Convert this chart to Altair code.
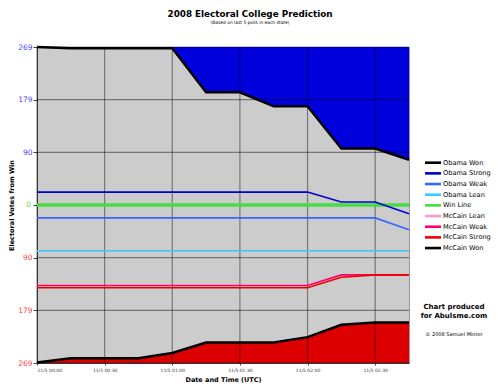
import altair as alt
import pandas as pd

# ---------------- data ----------------
times = ["2008-11-05T00:00:00", "2008-11-05T00:15:00", "2008-11-05T00:30:00", "2008-11-05T00:45:00",
         "2008-11-05T01:00:00", "2008-11-05T01:15:00", "2008-11-05T01:30:00", "2008-11-05T01:45:00",
         "2008-11-05T02:00:00", "2008-11-05T02:15:00", "2008-11-05T02:30:00", "2008-11-05T02:45:00"]

obama_won     = [269, 267, 267, 267, 267, 192, 192, 168, 168, 96, 96, 77]
obama_strong  = [22, 22, 22, 22, 22, 22, 22, 22, 22, 5, 5, -15]
obama_weak    = [-22, -22, -22, -22, -22, -22, -22, -22, -22, -22, -22, -42]
obama_lean    = [-78, -78, -78, -78, -78, -78, -78, -78, -78, -78, -78, -78]
win_line      = [0, 0, 0, 0, 0, 0, 0, 0, 0, 0, 0, 0]
mccain_lean   = [-78, -78, -78, -78, -78, -78, -78, -78, -78, -78, -78, -78]
mccain_weak   = [-137, -137, -137, -137, -137, -137, -137, -137, -137, -119, -119, -119]
mccain_strong = [-141, -141, -141, -141, -141, -141, -141, -141, -141, -123, -119, -119]
mccain_won    = [-268, -261, -261, -261, -252, -234, -234, -234, -225, -204, -200, -200]

series_names = ["Obama Won", "Obama Strong", "Obama Weak", "Obama Lean", "Win Line",
                "McCain Lean", "McCain Weak", "McCain Strong", "McCain Won"]
series_colors = ["#000000", "#0000cc", "#3366ff", "#33ccff", "#44dd44",
                 "#ff99cc", "#ff0066", "#ee0000", "#000000"]

y_ticks = [269, 179.33, 89.67, 0, -89.67, -179.33, -269]
x_ticks = ["2008-11-05T00:00:00", "2008-11-05T00:30:00", "2008-11-05T01:00:00",
           "2008-11-05T01:30:00", "2008-11-05T02:00:00", "2008-11-05T02:30:00"]

notes = ["Chart produced", "for Abulsme.com", "\u00a9 2008 Samuel Minter"]

# ---------------- tables ----------------
values_by_series = {
    "Obama Won": obama_won, "Obama Strong": obama_strong, "Obama Weak": obama_weak,
    "Obama Lean": obama_lean, "Win Line": win_line, "McCain Lean": mccain_lean,
    "McCain Weak": mccain_weak, "McCain Strong": mccain_strong, "McCain Won": mccain_won,
}
color_of = dict(zip(series_names, series_colors))

def long_df(names):
    rows = []
    for n in names:
        for t, v in zip(times, values_by_series[n]):
            rows.append({"time": t, "series": n, "value": v})
    return pd.DataFrame(rows)

area_df = pd.DataFrame({"time": times, "obama_won": obama_won, "mccain_won": mccain_won,
                        "top": [269] * len(times), "bottom": [-269] * len(times)})

FONT = "DejaVu Sans"

def y_axis():
    return alt.Axis(
        values=y_ticks,
        labelExpr="datum.value == 0 ? '' : format(abs(datum.value), '.0f')",
        labelColor=alt.condition("datum.value > 0", alt.value("#4444ff"), alt.value("#ff4444")),
        labelFontSize=7.5, labelFont=FONT, labelPadding=1,
        tickColor="#444", tickSize=4, domainColor="#444",
        grid=False, title="Electoral Votes from Win", titleFontSize=6.5,
        titleFont=FONT, titleFontWeight="bold", titlePadding=3, titleColor="#000",
    )

def x_axis():
    return alt.Axis(
        values=[alt.DateTime(year=2008, month=11, date=5, hours=h, minutes=m)
                for h, m in [(0, 0), (0, 30), (1, 0), (1, 30), (2, 0), (2, 30)]],
        labelExpr="(month(datum.value)+1) + '/' + date(datum.value) + ' ' + timeFormat(datum.value, '%H:%M')",
        labelFontSize=4.5, labelFont=FONT, labelColor="#333", labelPadding=2,
        tickColor="#444", tickSize=2, domainColor="#444", grid=False,
        title="Date and Time (UTC)", titleFontSize=6.5, titleFont=FONT,
        titleFontWeight="bold", titlePadding=5, titleColor="#000",
    )

def X(field="time"):
    return alt.X(f"{field}:T", scale=alt.Scale(nice=False), axis=x_axis(), title="Date and Time (UTC)")

def Y(field):
    return alt.Y(f"{field}:Q", scale=alt.Scale(domain=[-269, 269], nice=False, zero=False),
                 axis=y_axis(), title="Electoral Votes from Win")

def color_enc():
    return alt.Color("series:N", scale=alt.Scale(domain=series_names, range=series_colors),
                     legend=None)

blue_area = alt.Chart(area_df).mark_area(color="#0000dd", opacity=1).encode(
    x=X(), y=Y("obama_won"), y2=alt.Y2("top"))
red_area = alt.Chart(area_df).mark_area(color="#dd0000", opacity=1).encode(
    x=X(), y=Y("mccain_won"), y2=alt.Y2("bottom"))

hgrid = alt.Chart(pd.DataFrame({"v": y_ticks})).mark_rule(
    color="#000", opacity=0.42, strokeWidth=1.2).encode(y=Y("v"))
vgrid = alt.Chart(pd.DataFrame({"tt": x_ticks})).mark_rule(
    color="#000", opacity=0.42, strokeWidth=1.2).encode(x=X("tt"))

win = alt.Chart(long_df(["Win Line"])).mark_line(strokeWidth=3.5).encode(
    x=X(), y=Y("value"), color=color_enc())
thin = alt.Chart(long_df(["McCain Lean", "Obama Lean", "Obama Weak", "Obama Strong",
                          "McCain Weak", "McCain Strong"])).mark_line(strokeWidth=1.6).encode(
    x=X(), y=Y("value"), color=color_enc())
won = alt.Chart(long_df(["Obama Won", "McCain Won"])).mark_line(strokeWidth=2.5).encode(
    x=X(), y=Y("value"), color=color_enc())

zero_label = alt.Chart(pd.DataFrame({"v": [0], "s": ["0"]})).mark_text(
    font=FONT, fontSize=7.5, color="#55dd55", align="right", baseline="middle").encode(
    y=Y("v"), x=alt.value(-6), text="s:N")

# ---- legend (drawn by hand, entries from series arrays) ----
legend_layers = []
LEG_Y0, LEG_DY = 115.7, 10.67
for i, name in enumerate(series_names):
    ly = LEG_Y0 + i * LEG_DY
    ldf = pd.DataFrame({"series": [name]})
    legend_layers.append(
        alt.Chart(ldf).mark_rule(strokeWidth=2.6, color=color_of[name]).encode(
            x=alt.value(388), x2=alt.value(404), y=alt.value(ly)))
    legend_layers.append(
        alt.Chart(ldf).mark_text(font=FONT, fontSize=6.6, color="#000", align="left",
                                 baseline="middle").encode(
            text="series:N", x=alt.value(406), y=alt.value(ly)))

def note(i, x, y, size, bold):
    return alt.Chart(pd.DataFrame({"n": [notes[i]]})).mark_text(
        font=FONT, fontSize=size, fontWeight="bold" if bold else "normal",
        color="#000", align="center", baseline="middle").encode(
        text="n:N", x=alt.value(x), y=alt.value(y))

chart = alt.layer(
    blue_area, red_area, hgrid, vgrid, win, thin, won, zero_label,
    *legend_layers,
    note(0, 417, 260, 7, True), note(1, 417, 269, 7, True), note(2, 417, 287, 5, False),
).properties(
    width=372, height=316,
    background="#ffffff",
    title=alt.TitleParams(
        text="2008 Electoral College Prediction",
        subtitle="(Based on last 5 polls in each state)",
        font=FONT, fontSize=8.8, fontWeight="bold", color="#000",
        subtitleFont=FONT, subtitleFontSize=4.4, subtitleColor="#000",
        subtitlePadding=2, anchor="middle", dx=27, offset=18,
    ),
    autosize=alt.AutoSizeParams(type="none"),
    padding={"left": 29, "top": 39, "right": 83, "bottom": 20},
).configure_view(
    fill="#cccccc", stroke="#999999", strokeWidth=1
)

chart.save("out.html", embed_options={"renderer": "svg", "actions": False})
